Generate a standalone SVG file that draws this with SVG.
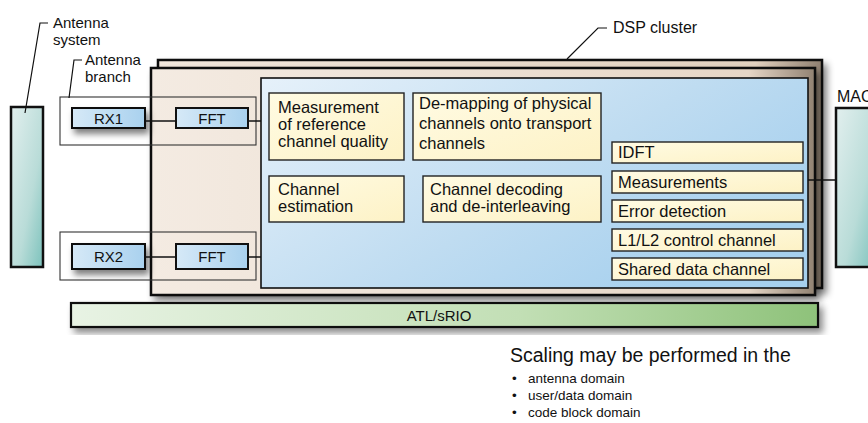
<svg xmlns="http://www.w3.org/2000/svg" width="868" height="423" viewBox="0 0 868 423">
<defs>
<filter id="sh" x="-10%" y="-10%" width="130%" height="140%"><feDropShadow dx="4" dy="5" stdDeviation="3.5" flood-color="#000" flood-opacity="0.45"/></filter>
<filter id="shs" x="-20%" y="-30%" width="160%" height="190%"><feDropShadow dx="3" dy="5" stdDeviation="3" flood-color="#000" flood-opacity="0.5"/></filter>
<linearGradient id="gAnt" x1="0" y1="0" x2="1" y2="1"><stop offset="0" stop-color="#e2efee"/><stop offset="0.6" stop-color="#b9dcd8"/><stop offset="1" stop-color="#7cc2bc"/></linearGradient>
<linearGradient id="gBack" x1="0" y1="0" x2="1" y2="0"><stop offset="0" stop-color="#f2e7dc"/><stop offset="0.9" stop-color="#e2d1bf"/><stop offset="1" stop-color="#8e7f70"/></linearGradient>
<linearGradient id="gFront" x1="0" y1="0" x2="1" y2="0"><stop offset="0" stop-color="#f4ebe2"/><stop offset="0.9" stop-color="#e6d6c6"/><stop offset="1" stop-color="#918272"/></linearGradient>
<linearGradient id="gBlue" x1="0" y1="0" x2="1" y2="0.6"><stop offset="0" stop-color="#e6f1fa"/><stop offset="0.6" stop-color="#bfdcf1"/><stop offset="1" stop-color="#a6d0ee"/></linearGradient>
<linearGradient id="gRx" x1="0" y1="0" x2="1" y2="0"><stop offset="0" stop-color="#d6e9f7"/><stop offset="1" stop-color="#a9d1ee"/></linearGradient>
<linearGradient id="gY" x1="0" y1="0" x2="1" y2="1"><stop offset="0" stop-color="#fffbe3"/><stop offset="1" stop-color="#fdf2c6"/></linearGradient>
<linearGradient id="gAtl" x1="0" y1="0" x2="1" y2="0"><stop offset="0" stop-color="#e8f3e4"/><stop offset="0.6" stop-color="#c2dfb5"/><stop offset="1" stop-color="#8ec27a"/></linearGradient>
</defs>
<style>
text{font-family:"Liberation Sans",Arial,Helvetica,sans-serif;fill:#111;}
.lbl{font-size:15px;}
.bx{font-size:16.5px;}
.sm{font-size:13.5px;}
.ant{stroke:#111;stroke-width:2.5;fill:url(#gAnt);}
.yb{fill:url(#gY);stroke:#222;stroke-width:1.4;}
.rx{fill:url(#gRx);stroke:#111;stroke-width:2;}
.br{fill:none;stroke:#333;stroke-width:1.1;}
.ld{fill:none;stroke:#111;stroke-width:1.2;}
.cn{stroke:#111;stroke-width:1.5;fill:none;}
</style>

<g id="antenna-system">
<rect class="ant" x="11" y="107" width="32" height="160"/>
<polyline class="ld" points="25,113 40,23 48,23"/>
<text class="lbl" x="53" y="28">Antenna</text>
<text class="lbl" x="53" y="45">system</text>
</g>

<g id="mac">
<rect class="ant" x="836" y="108" width="40" height="159"/>
<text class="lbl" x="837" y="102" style="font-size:16px">MAC</text>
</g>

<g id="dsp-cluster">
<rect x="158" y="60" width="664" height="228" fill="url(#gBack)" stroke="#111" stroke-width="2.5" filter="url(#sh)"/>
<rect x="151" y="68" width="664" height="227" fill="url(#gFront)" stroke="#111" stroke-width="2.5" filter="url(#sh)"/>
<polyline class="ld" points="567,59 598,28 607,28"/>
<text class="lbl" x="613" y="33" style="font-size:16px">DSP cluster</text>
</g>

<g id="antenna-branch-1">
<rect class="br" x="60" y="97" width="196" height="48"/>
<polyline class="ld" points="69,98 74,60 82,60"/>
<text class="lbl" x="85" y="65">Antenna</text>
<text class="lbl" x="85" y="82">branch</text>
</g>
<g id="antenna-branch-2">
<rect class="br" x="60" y="232" width="196" height="48"/>
</g>

<g id="rx1"><rect class="rx" x="72" y="108" width="73" height="20" filter="url(#shs)"/><text x="108.5" y="124" text-anchor="middle" style="font-size:15px">RX1</text></g>
<g id="fft1"><rect class="rx" x="176" y="108" width="72" height="20"/><text x="212" y="124" text-anchor="middle" style="font-size:15px">FFT</text></g>
<g id="rx2"><rect class="rx" x="72" y="244" width="73" height="25" filter="url(#shs)"/><text x="108.5" y="262" text-anchor="middle" style="font-size:15px">RX2</text></g>
<g id="fft2"><rect class="rx" x="176" y="244" width="72" height="25"/><text x="212" y="262" text-anchor="middle" style="font-size:15px">FFT</text></g>

<g id="processing">
<rect x="261" y="78" width="547" height="210" fill="url(#gBlue)" stroke="#111" stroke-width="1.6"/>
</g>

<g id="measurement-ref">
<rect class="yb" x="269" y="93" width="135" height="67"/>
<text class="bx" x="278" y="113">Measurement</text>
<text class="bx" x="278" y="130">of reference</text>
<text class="bx" x="278" y="147">channel quality</text>
</g>
<g id="demapping">
<rect class="yb" x="413" y="93" width="188" height="67"/>
<text class="bx" x="419" y="109">De-mapping of physical</text>
<text class="bx" x="419" y="129">channels onto transport</text>
<text class="bx" x="419" y="149">channels</text>
</g>
<g id="channel-estimation">
<rect class="yb" x="269" y="176" width="135" height="46"/>
<text class="bx" x="278" y="195">Channel</text>
<text class="bx" x="278" y="212">estimation</text>
</g>
<g id="channel-decoding">
<rect class="yb" x="423" y="176" width="178" height="46"/>
<text class="bx" x="430" y="195">Channel decoding</text>
<text class="bx" x="430" y="212">and de-interleaving</text>
</g>
<g id="idft"><rect class="yb" x="612" y="142" width="191" height="21"/><text class="bx" x="618" y="158">IDFT</text></g>
<g id="measurements"><rect class="yb" x="612" y="171" width="191" height="22"/><text class="bx" x="618" y="188">Measurements</text></g>
<g id="error-detection"><rect class="yb" x="612" y="200" width="191" height="22"/><text class="bx" x="618" y="217">Error detection</text></g>
<g id="l1l2"><rect class="yb" x="612" y="229" width="191" height="22"/><text class="bx" x="618" y="246">L1/L2 control channel</text></g>
<g id="shared"><rect class="yb" x="612" y="258" width="191" height="22"/><text class="bx" x="618" y="275">Shared data channel</text></g>

<g id="connectors">
<line class="cn" x1="145" y1="121" x2="176" y2="121"/>
<line class="cn" x1="248" y1="121" x2="261" y2="121"/>
<line class="cn" x1="145" y1="257" x2="176" y2="257"/>
<line class="cn" x1="248" y1="257" x2="261" y2="257"/>
<line class="cn" x1="808" y1="180" x2="836" y2="180"/>
</g>

<g id="atl-srio">
<rect x="71" y="303" width="747" height="24" fill="url(#gAtl)" stroke="#111" stroke-width="2.2" filter="url(#sh)"/>
<text x="439" y="321" text-anchor="middle" style="font-size:15px">ATL/sRIO</text>
</g>

<g id="note">
<text x="510" y="362" style="font-size:19.5px">Scaling may be performed in the</text>
<text class="sm" x="512" y="383">•</text><text class="sm" x="528" y="383">antenna domain</text>
<text class="sm" x="512" y="400">•</text><text class="sm" x="528" y="400">user/data domain</text>
<text class="sm" x="512" y="417">•</text><text class="sm" x="528" y="417">code block domain</text>
</g>
</svg>
